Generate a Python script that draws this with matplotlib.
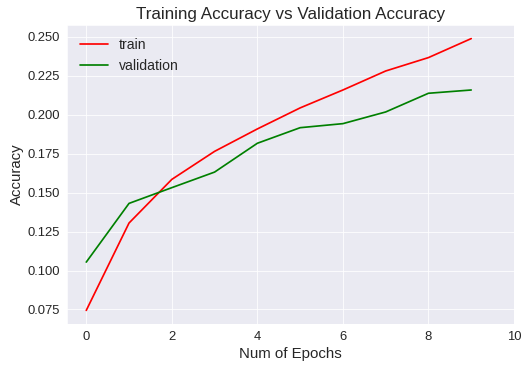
import matplotlib
matplotlib.use("Agg")
import matplotlib.pyplot as plt
import seaborn as sns

epochs = list(range(10))
train_acc = [0.0744, 0.1305, 0.1585, 0.1765, 0.1909, 0.2044, 0.2159, 0.2281, 0.2367, 0.2489]
val_acc = [0.1054, 0.1431, 0.1532, 0.1632, 0.1817, 0.1917, 0.1943, 0.2018, 0.2138, 0.2159]
x_ticks = [0, 2, 4, 6, 8, 10]

sns.set_style("darkgrid")
plt.rcParams['font.family'] = ['Liberation Sans', 'DejaVu Sans']
plt.rcParams['text.color'] = '.15'
plt.rcParams['axes.labelcolor'] = '.15'
plt.rcParams['xtick.color'] = '.15'
plt.rcParams['ytick.color'] = '.15'

fig = plt.figure(figsize=(528 / 72, 370 / 72), dpi=72)
ax = fig.add_axes([67 / 528, 1 - 324 / 370, (514 - 67) / 528, (324 - 25) / 370])

ax.plot(epochs, train_acc, color='red', linewidth=1.7, label='train')
ax.plot(epochs, val_acc, color='green', linewidth=1.7, label='validation')

ax.set_xticks(x_ticks)
ax.set_xlim(-0.45, 10)
ax.tick_params(labelsize=13)
ax.set_title("Training Accuracy vs Validation Accuracy", fontsize=17)
ax.set_xlabel("Num of Epochs", fontsize=15)
ax.set_ylabel("Accuracy", fontsize=15)
ax.legend(loc='upper left', fontsize=14, frameon=False)

fig.savefig("out.png", dpi=72)
